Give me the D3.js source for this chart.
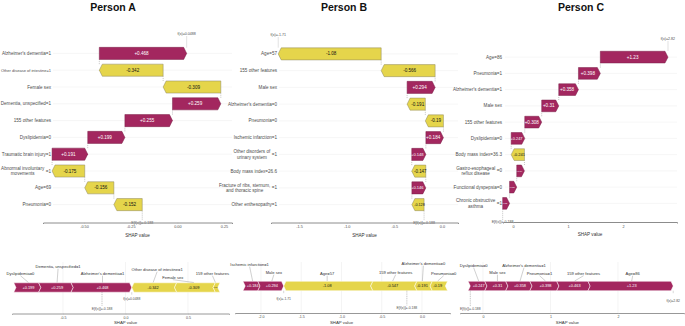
<!DOCTYPE html>
<html>
<head>
<meta charset="utf-8">
<script src="https://cdn.jsdelivr.net/npm/d3@7"></script>
<style>
  body { margin: 0; background: #fff; }
  svg { display: block; font-family: "Liberation Sans", Arial, sans-serif; }
</style>
</head>
<body>
<svg id="chart" width="685" height="326"></svg>
<script>
(function () {
    "use strict";

    // --- Data ---
    const BASE = -0.188;

    const featA = ["Alzheimer's dementia=1", "Other disease of intestine=1", "Female sex",
        "Dementia, unspecified=1", "155 other features", "Dyslipidemia=0",
        "Traumatic brain injury=1", "Abnormal involuntary\nmovements=1", "Age=69", "Pneumonia=0"];
    const shapA = [0.468, -0.342, -0.309, 0.259, 0.255, 0.199, 0.191, -0.175, -0.156, -0.152];
    const fxA = 0.0488;

    const featB = ["Age=57", "155 other features", "Male sex", "Alzheimer's dementia=0",
        "Pneumonia=0", "Ischemic infarction=1", "Other disorders of\nurinary system=1",
        "Body mass index=26.6", "Fracture of ribs, sternum,\nand thoracic spine=1", "Other enthesopathy=1"];
    const shapB = [-1.08, -0.566, 0.294, -0.191, -0.19, 0.184, 0.148, -0.147, 0.146, -0.128];
    const fxB = -1.71;

    const featC = ["Age=86", "Pneumonia=1", "Alzheimer's dementia=1", "Male sex",
        "155 other features", "Dyslipidemia=0", "Body mass index=36.3",
        "Gastro-esophageal\nreflux disease=0", "Functional dyspepsia=0", "Chronic obstructive\nasthma=1"];
    const shapC = [1.23, 0.398, 0.358, 0.31, 0.308, 0.247, -0.241, 0.14, 0.13, 0.126];
    const fxC = 2.82;

    const ticksA = [-0.50, -0.25, 0.00, 0.25];
    const ticksB = [-1.5, -1.0, -0.5, 0.0];
    const ticksC = [0, 1, 2];

    // force plots (left to right)
    const forceFeatA = ["Dyslipidemia=0", "Dementia, unspecified=1", "Alzheimer's dementia=1",
        "Other disease of intestine=1", "Female sex", "159 other features"];
    const forceShapA = [0.199, 0.259, 0.468, -0.342, -0.309, -0.037];

    const forceFeatB = ["Ischemic infarction=1", "Male sex", "Age=57", "159 other features",
        "Alzheimer's dementia=0", "Pneumonia=0"];
    const forceShapB = [0.184, 0.294, -1.08, -0.547, -0.191, -0.19];

    const forceFeatC = ["Dyslipidemia=0", "Male sex", "Alzheimer's dementia=1", "Pneumonia=1",
        "159 other features", "Age=86"];
    const forceShapC = [0.247, 0.31, 0.358, 0.398, 0.463, 1.23];

    const forceTicksA = [-0.5, 0.0, 0.5];
    const forceTicksB = [-2.0, -1.5, -1.0, -0.5, 0.0];
    const forceTicksC = [0, 1, 2];

    // --- Style ---
    const MAG = "#a3275f";
    const YEL = "#e5d54b";
    const LABEL = "#4d4d4d";
    const GRID = "#ececec";

    const svg = d3.select("#chart");

    function fmt(f) {
        return function (v) { return d3.format(f)(v).replace("\u2212", "-"); };
    }
    const fmtVal = fmt("+.3~g");

    // shrink text so that it fits in a given width
    function fitText(sel, maxW, fs) {
        const w = sel.node().getComputedTextLength();
        if (w > maxW && w > 0) sel.attr("font-size", Math.max(1.5, fs * maxW / w));
    }

    function featLabel(g, label, xr, yc, fs) {
        const lines = label.split("\n");
        if (lines.length === 1) {
            const t = g.append("text").attr("x", xr).attr("y", yc).attr("dy", "0.35em")
                .attr("text-anchor", "end").attr("font-size", fs).attr("fill", LABEL).text(label);
            // keep the label inside the page on the left
            fitText(t, xr - 0.8, fs);
            return;
        }
        const last = lines[lines.length - 1];
        const k = last.lastIndexOf("=");
        lines[lines.length - 1] = last.slice(0, k);
        const suf = g.append("text").attr("x", xr).attr("y", yc).attr("dy", "0.35em")
            .attr("text-anchor", "end").attr("font-size", fs).attr("fill", LABEL).text(last.slice(k));
        const sw = suf.node().getComputedTextLength();
        const t = g.append("text").attr("text-anchor", "middle").attr("font-size", fs).attr("fill", LABEL);
        const lh = fs * 1.1;
        const spans = lines.map(function (ln, i) {
            return t.append("tspan").attr("y", yc + (i - (lines.length - 1) / 2) * lh).attr("dy", "0.35em").text(ln);
        });
        const maxW = d3.max(spans, function (s) { return s.node().getComputedTextLength(); });
        const cx = xr - sw - 1.5 - maxW / 2;
        spans.forEach(function (s) { s.attr("x", cx); });
    }

    function makeScale(ticks, t0, t1, axisL, axisR) {
        const x = d3.scaleLinear().domain([ticks[0], ticks[ticks.length - 1]]).range([t0, t1]);
        return d3.scaleLinear().domain([x.invert(axisL), x.invert(axisR)]).range([axisL, axisR]);
    }

    // --- Waterfall panel ---
    function drawWaterfall(cfg) {
        const g = svg.append("g");
        const n = cfg.feat.length;
        const x = makeScale(cfg.ticks, cfg.t0, cfg.t1, cfg.axisL, cfg.axisR);
        const y = d3.scaleBand().domain(d3.range(n)).range([cfg.rowTop, cfg.rowBottom]).paddingInner(0.28).paddingOuter(0.14);
        const h = y.bandwidth();
        const yc = function (i) { return y(i) + h / 2; };

        // title
        g.append("text").attr("x", cfg.titleX).attr("y", 11).attr("text-anchor", "middle")
            .attr("font-size", 10.5).attr("font-weight", "bold").attr("fill", "#111").text(cfg.title);

        // row grid
        d3.range(n).forEach(function (i) {
            g.append("line").attr("x1", cfg.gridL).attr("x2", cfg.axisR)
                .attr("y1", yc(i)).attr("y2", yc(i)).attr("stroke", GRID).attr("stroke-width", 0.5);
        });

        // cumulative chain from the bottom bar upward
        const starts = new Array(n), ends = new Array(n);
        let cum = BASE;
        for (let i = n - 1; i >= 0; i--) {
            starts[i] = cum;
            cum += cfg.shap[i];
            ends[i] = cum;
        }

        // dashed connectors
        function dline(x1, y1, y2) {
            g.append("line").attr("x1", x1).attr("x2", x1).attr("y1", y1).attr("y2", y2)
                .attr("stroke", "#8a8a8a").attr("stroke-width", 0.5).attr("stroke-dasharray", "1,1");
        }
        for (let i = n - 1; i > 0; i--) {
            dline(x(ends[i]), yc(i) - h / 2, yc(i - 1) + h / 2);
        }
        dline(x(ends[0]), cfg.fxLabelY + 1.5, yc(0) - h / 2);
        dline(x(BASE), yc(n - 1) + h / 2, cfg.axisY - 1.8);

        // bars
        d3.range(n).forEach(function (i) {
            const xs = x(starts[i]), xe = x(ends[i]);
            const dir = xe >= xs ? 1 : -1;
            const w = Math.abs(xe - xs);
            const ah = Math.min(3, w);
            const yt = yc(i) - h / 2, yb = yc(i) + h / 2, xn = xe - dir * ah;
            const pos = cfg.shap[i] >= 0;
            g.append("path")
                .attr("d", d3.line()([[xs, yt], [xn, yt], [xe, yc(i)], [xn, yb], [xs, yb]]) + "Z")
                .attr("fill", pos ? MAG : YEL)
                .attr("stroke", pos ? "#7b2049" : "#8c8660").attr("stroke-width", 0.5);
            const t = g.append("text").attr("x", (xs + xn) / 2).attr("y", yc(i)).attr("dy", "0.35em")
                .attr("text-anchor", "middle").attr("font-size", 4.6)
                .attr("fill", pos ? "#fff" : "#111").text(fmtVal(cfg.shap[i]));
            fitText(t, Math.max(w - 1.5, 2), 4.6);
            featLabel(g, cfg.feat[i], cfg.labelRight, yc(i), 4.6);
        });

        // f(x) and E[f(x)] labels
        g.append("text").attr("x", x(ends[0])).attr("y", cfg.fxLabelY).attr("text-anchor", "middle")
            .attr("font-size", 3.6).attr("fill", LABEL).text("f(x)=" + fmt("~g")(cfg.fx));
        g.append("text").attr("x", x(BASE)).attr("y", cfg.axisY).attr("dy", "0.35em").attr("text-anchor", "middle")
            .attr("font-size", 3.6).attr("fill", LABEL).text("E[f(x)]=" + fmt("~g")(BASE));

        // axis
        const ax = g.append("g").attr("transform", "translate(0," + cfg.axisY + ")")
            .call(d3.axisBottom(x).tickValues(cfg.ticks).tickFormat(fmt(cfg.tickFmt)).tickSizeOuter(0).tickSize(1.5).tickPadding(1.5));
        ax.select(".domain").attr("stroke", "#8c8c8c").attr("stroke-width", 1);
        ax.selectAll(".tick line").attr("stroke", "#b0b0b0").attr("stroke-width", 0.4);
        ax.selectAll(".tick text").attr("font-size", 3.8).attr("fill", LABEL).attr("font-family", null);
        g.append("text").attr("x", (cfg.axisL + cfg.axisR) / 2).attr("y", cfg.axisY + 14).attr("text-anchor", "middle")
            .attr("font-size", 4.6).attr("fill", "#333").text("SHAP value");
    }

    // --- Force panel ---
    function drawForce(cfg) {
        const g = svg.append("g");
        const x = makeScale(cfg.ticks, cfg.t0, cfg.t1, cfg.axisL, cfg.axisR);
        const yt = cfg.barY - 4.7, yb = cfg.barY + 4.7;

        // vertical grid
        cfg.ticks.forEach(function (tv) {
            g.append("line").attr("x1", x(tv)).attr("x2", x(tv)).attr("y1", 262).attr("y2", cfg.axisY)
                .attr("stroke", GRID).attr("stroke-width", 0.6);
        });

        const fx = BASE + d3.sum(cfg.shap);
        const sumPos = d3.sum(cfg.shap.filter(function (v) { return v > 0; }));
        let cum = fx - sumPos;
        const segs = cfg.shap.map(function (v) {
            const s = cum;
            cum += Math.abs(v);
            return { s: s, e: cum, v: v };
        });

        // segments
        const a = 2.2;
        segs.forEach(function (sg) {
            const xs = x(sg.s), xe = x(sg.e);
            let pts;
            if (sg.v >= 0) {
                pts = [[xs - a, yt], [xe - a, yt], [xe, cfg.barY], [xe - a, yb], [xs - a, yb], [xs, cfg.barY]];
            } else {
                pts = [[xs + a, yt], [xe + a, yt], [xe, cfg.barY], [xe + a, yb], [xs + a, yb], [xs, cfg.barY]];
            }
            g.append("path").attr("d", d3.line()(pts) + "Z")
                .attr("fill", sg.v >= 0 ? MAG : YEL).attr("stroke", "#fff").attr("stroke-width", 0.5);
            const t = g.append("text").attr("x", (xs + xe) / 2).attr("y", cfg.barY).attr("dy", "0.35em")
                .attr("text-anchor", "middle").attr("font-size", 3.9)
                .attr("fill", sg.v >= 0 ? "#fff" : "#111").text(fmtVal(sg.v));
            fitText(t, Math.max(xe - xs - 3, 1.5), 3.9);
        });

        // feature labels with leader lines
        segs.forEach(function (sg, i) {
            const cx = x((sg.s + sg.e) / 2);
            const lx = cx + cfg.labelDx[i], ly = cfg.labelY[i];
            g.append("line").attr("x1", lx).attr("y1", ly + 1.2).attr("x2", cx).attr("y2", yt - 0.3)
                .attr("stroke", "#777").attr("stroke-width", 0.35);
            g.append("text").attr("x", lx).attr("y", ly).attr("text-anchor", "middle")
                .attr("font-size", 4.1).attr("fill", "#333").text(cfg.feat[i]);
        });

        // f(x) and E[f(x)]
        g.append("line").attr("x1", x(fx)).attr("x2", x(fx)).attr("y1", yb).attr("y2", yb + 2.5)
            .attr("stroke", "#999").attr("stroke-width", 0.4);
        g.append("text").attr("x", x(fx)).attr("y", cfg.fxY).attr("text-anchor", "middle")
            .attr("font-size", 3.4).attr("fill", LABEL).text("f(x)=" + fmt("~g")(cfg.fxText));
        g.append("line").attr("x1", x(BASE)).attr("x2", x(BASE)).attr("y1", yb).attr("y2", cfg.eY - 3)
            .attr("stroke", "#777").attr("stroke-width", 0.45).attr("stroke-dasharray", "1,0.8");
        g.append("text").attr("x", x(BASE)).attr("y", cfg.eY).attr("text-anchor", "middle")
            .attr("font-size", 3.4).attr("fill", LABEL).text("E[f(x)]=" + fmt("~g")(BASE));

        // axis
        const ax = g.append("g").attr("transform", "translate(0," + cfg.axisY + ")")
            .call(d3.axisBottom(x).tickValues(cfg.ticks).tickFormat(fmt(cfg.tickFmt)).tickSizeOuter(0).tickSize(1.2).tickPadding(1.3));
        ax.select(".domain").attr("stroke", "#8c8c8c").attr("stroke-width", 0.9);
        ax.selectAll(".tick line").attr("stroke", "#b0b0b0").attr("stroke-width", 0.4);
        ax.selectAll(".tick text").attr("font-size", 3.6).attr("fill", LABEL).attr("font-family", null);
        g.append("text").attr("x", x(cfg.titleAt)).attr("y", cfg.axisY + 10.5).attr("text-anchor", "middle")
            .attr("font-size", 4.3).attr("fill", "#333").text("SHAP value");
    }

    // --- Panels ---
    drawWaterfall({ feat: featA, shap: shapA, fx: fxA, ticks: ticksA, tickFmt: ".2f", title: "Person A", titleX: 113,
        axisL: 43, axisR: 232, t0: 84, t1: 224, labelRight: 51, gridL: 53, rowTop: 45, rowBottom: 213, fxLabelY: 35, axisY: 222.5 });
    drawWaterfall({ feat: featB, shap: shapB, fx: fxB, ticks: ticksB, tickFmt: ".1f", title: "Person B", titleX: 344,
        axisL: 271, axisR: 458, t0: 299, t1: 442, labelRight: 277, gridL: 279, rowTop: 45.5, rowBottom: 213, fxLabelY: 36, axisY: 222.5 });
    drawWaterfall({ feat: featC, shap: shapC, fx: fxC, ticks: ticksC, tickFmt: "d", title: "Person C", titleX: 581,
        axisL: 503, axisR: 677, t0: 513, t1: 623, labelRight: 502, gridL: 505, rowTop: 49, rowBottom: 211.5, fxLabelY: 40, axisY: 222 });

    drawForce({ feat: forceFeatA, shap: forceShapA, fxText: fxA, ticks: forceTicksA, tickFmt: ".1f",
        axisL: 12, axisR: 229, t0: 63, t1: 188, barY: 287.5, axisY: 313.5, fxY: 300, eY: 309.5, titleAt: 0.0,
        labelDx: [-8, 1, 0, 4, -21, -3], labelY: [274.5, 267.5, 274.5, 270.5, 278.5, 274.5] });
    drawForce({ feat: forceFeatB, shap: forceShapB, fxText: fxB, ticks: forceTicksB, tickFmt: ".1f",
        axisL: 235, axisR: 450, t0: 261, t1: 422, barY: 286, axisY: 313, fxY: 299.5, eY: 308.5, titleAt: -1.0,
        labelDx: [-3, 2, 0, 3, 1, 6], labelY: [265.5, 273.5, 274.5, 273.5, 264.5, 274.5] });
    drawForce({ feat: forceFeatC, shap: forceShapC, fxText: fxC, ticks: forceTicksC, tickFmt: "d",
        axisL: 460, axisR: 684, t0: 483, t1: 618, barY: 286, axisY: 313, fxY: 302, eY: 309.5, titleAt: 1.25,
        labelDx: [-5, 0, 4, -6, 9, 1], labelY: [266.5, 273.5, 266.5, 274.5, 274.5, 274.5] });
})();
</script>
</body>
</html>
